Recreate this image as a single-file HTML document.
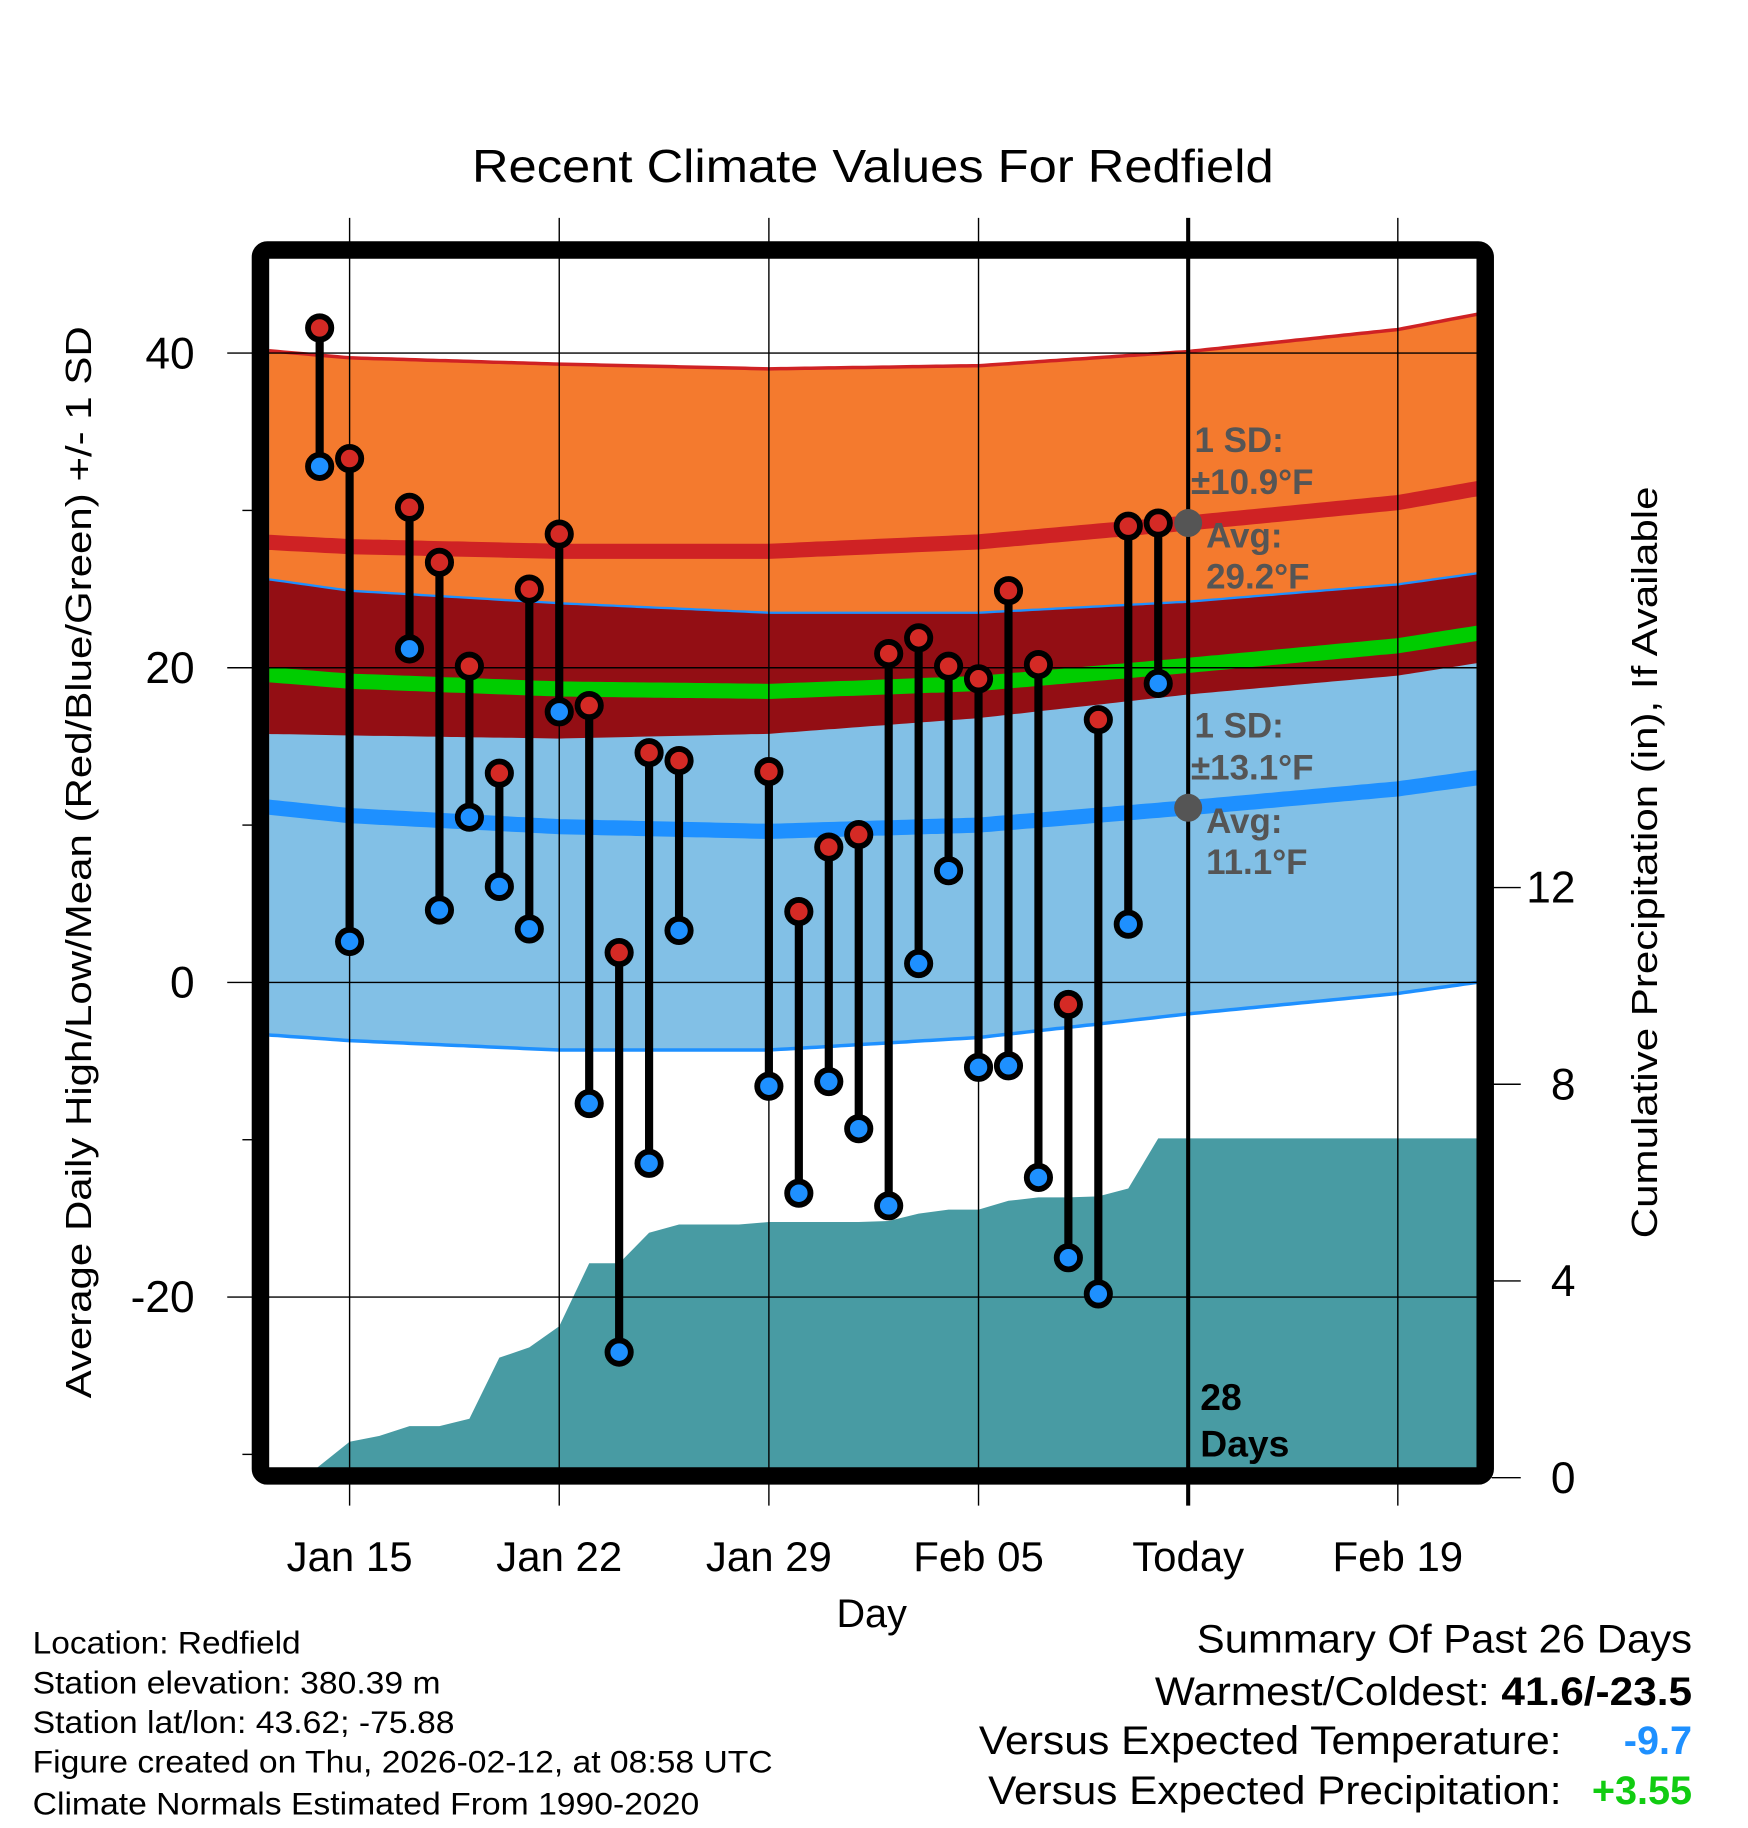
<!DOCTYPE html>
<html><head><meta charset="utf-8"><style>
html,body{margin:0;padding:0;background:#fff}
svg{display:block;font-family:"Liberation Sans",sans-serif}
</style></head><body>
<svg id="chart" width="1748" height="1828" viewBox="0 0 1500 1568.6" preserveAspectRatio="none" xmlns="http://www.w3.org/2000/svg">
<defs><clipPath id="plotclip"><rect x="231" y="222" width="1037" height="1038"/></clipPath></defs>
<text x="749" y="156" font-size="40" text-anchor="middle" textLength="688" lengthAdjust="spacingAndGlyphs">Recent Climate Values For Redfield</text>
<g id="bands" clip-path="url(#plotclip)"></g>
<g id="grid"></g>
<g id="marks"></g>
<rect x="223.5" y="214.5" width="1051" height="1052" rx="6" fill="none" stroke="#000" stroke-width="15"/>
<g id="labels"></g>
<text transform="translate(78,740) rotate(-90)" font-size="31" text-anchor="middle" textLength="920" lengthAdjust="spacingAndGlyphs">Average Daily High/Low/Mean (Red/Blue/Green) +/- 1 SD</text>
<text transform="translate(1422,740) rotate(-90)" font-size="31" text-anchor="middle" textLength="645" lengthAdjust="spacingAndGlyphs">Cumulative Precipitation (in), If Available</text>
<text x="748" y="1396" font-size="34" text-anchor="middle">Day</text>
<g font-size="27">
<text x="28" y="1419" textLength="230" lengthAdjust="spacingAndGlyphs">Location: Redfield</text>
<text x="28" y="1453" textLength="350" lengthAdjust="spacingAndGlyphs">Station elevation: 380.39 m</text>
<text x="28" y="1487" textLength="362" lengthAdjust="spacingAndGlyphs">Station lat/lon: 43.62; -75.88</text>
<text x="28" y="1521" textLength="635" lengthAdjust="spacingAndGlyphs">Figure created on Thu, 2026-02-12, at 08:58 UTC</text>
<text x="28" y="1557" textLength="572" lengthAdjust="spacingAndGlyphs">Climate Normals Estimated From 1990-2020</text>
</g>
<g font-size="34" text-anchor="end">
<text x="1452" y="1418" textLength="425" lengthAdjust="spacingAndGlyphs">Summary Of Past 26 Days</text>
<text x="1452" y="1463" textLength="461" lengthAdjust="spacingAndGlyphs">Warmest/Coldest: <tspan font-weight="bold">41.6/-23.5</tspan></text>
<text x="1340" y="1505" textLength="500" lengthAdjust="spacingAndGlyphs">Versus Expected Temperature:</text>
<text x="1452" y="1505" fill="#1e90ff" font-weight="bold">-9.7</text>
<text x="1340" y="1548" textLength="492" lengthAdjust="spacingAndGlyphs">Versus Expected Precipitation:</text>
<text x="1452" y="1548" fill="#11cc11" font-weight="bold">+3.55</text>
</g>
</svg>
<script>
// Days are offsets from Jan 15
const normDays = [-3, 0, 7, 14, 21, 28, 35, 38];
const hiMean = [28.0, 27.7, 27.4, 27.4, 28.0, 29.2, 30.5, 31.5];
const hiSD   = [12.2, 12.0, 11.9, 11.6, 11.2, 10.9, 11.0, 11.1];
const loMean = [11.2, 10.6, 9.9, 9.6, 10.0, 11.1, 12.3, 13.1];
const loSD   = [14.5, 14.3, 14.2, 13.9, 13.5, 13.1, 13.0, 13.0];
const obsDays = [-1,0,2,3,4,5,6,7,8,9,10,11,14,15,16,17,18,19,20,21,22,23,24,25,26,27];
const highs = [41.6,33.3,30.2,26.7,20.1,13.3,25.0,28.5,17.6,1.9,14.6,14.1,13.4,4.5,8.6,9.4,20.9,21.9,20.1,19.3,24.9,20.2,-1.4,16.7,29.0,29.2];
const lows  = [32.8,2.6,21.2,4.6,10.5,6.1,3.4,17.2,-7.7,-23.5,-11.5,3.3,-6.6,-13.4,-6.3,-9.3,-14.2,1.2,7.1,-5.4,-5.3,-12.4,-17.5,-19.8,3.7,19.0];
const precipDays = [-1.5,0,1,2,3,4,5,6,7,8,9,10,11,12,13,14,15,16,17,18,19,20,21,22,23,24,25,26,27,28,38];
const precipVals = [0,0.73,0.85,1.05,1.05,1.2,2.44,2.65,3.08,4.36,4.36,4.98,5.15,5.15,5.15,5.2,5.2,5.2,5.2,5.22,5.37,5.45,5.45,5.63,5.7,5.7,5.72,5.88,6.9,6.9,6.9];
const xTickDays = [0,7,14,21,28,35];
const xTickLabels = ["Jan 15","Jan 22","Jan 29","Feb 05","Today","Feb 19"];
const yTicks = [40,20,0,-20];
const yMinor = [30,10,-10,-30];
const pTicks = [0,4,8,12];
const todayDay = 28;

const NS="http://www.w3.org/2000/svg";
const X0=231,X1=1268,Y0=222,Y1=1260;
const xs=d=>300+25.7*d;
const ys=t=>843-13.5*t;
const yp=p=>1268-42.2*p;
function el(tag,attrs,parent){const e=document.createElementNS(NS,tag);for(const k in attrs)e.setAttribute(k,attrs[k]);parent.appendChild(e);return e;}
function interp(arr,d){for(let i=0;i<normDays.length-1;i++){if(d<=normDays[i+1]){const f=(d-normDays[i])/(normDays[i+1]-normDays[i]);return arr[i]+f*(arr[i+1]-arr[i]);}}return arr[arr.length-1];}
const samples=[];const dEnd=normDays[normDays.length-1];for(let d=normDays[0];d<dEnd;d+=0.2)samples.push(d);samples.push(dEnd);
function curve(f){return samples.map(d=>[xs(d),ys(f(d))]);}
function bandPath(fTop,fBot){const a=curve(fTop),b=curve(fBot).reverse();return "M"+a.concat(b).map(p=>p[0].toFixed(1)+","+p[1].toFixed(1)).join("L")+"Z";}
function linePath(f){return "M"+curve(f).map(p=>p[0].toFixed(1)+","+p[1].toFixed(1)).join("L");}
const hiT=d=>interp(hiMean,d)+interp(hiSD,d), hiB=d=>interp(hiMean,d)-interp(hiSD,d);
const loT=d=>interp(loMean,d)+interp(loSD,d), loB=d=>interp(loMean,d)-interp(loSD,d);
const bands=document.getElementById('bands');
let e;
e=el('path',{d:bandPath(hiT,hiB),fill:'#f47a2e'},bands);


e=el('path',{d:bandPath(loT,loB),fill:'#82c0e6'},bands);


e=el('path',{d:bandPath(d=>Math.min(hiT(d),loT(d)),d=>Math.max(hiB(d),loB(d))),fill:'#930e14'},bands);


e=el('path',{d:linePath(hiT),fill:'none',stroke:'#cf2224',"stroke-width":3},bands);


e=el('path',{d:linePath(loT),fill:'none',stroke:'#1e90ff',"stroke-width":2},bands);


e=el('path',{d:linePath(loB),fill:'none',stroke:'#1e90ff',"stroke-width":3},bands);


e=el('path',{d:linePath(d=>interp(hiMean,d)),fill:'none',stroke:'#cf2224',"stroke-width":13},bands);


e=el('path',{d:linePath(d=>interp(loMean,d)),fill:'none',stroke:'#1e90ff',"stroke-width":13},bands);


e=el('path',{d:linePath(d=>(interp(hiMean,d)+interp(loMean,d))/2),fill:'none',stroke:'#00cc00',"stroke-width":13},bands);


// precipitation area
let pp="M"+xs(precipDays[0]).toFixed(1)+","+Y1;
precipDays.forEach((d,i)=>{pp+="L"+xs(d).toFixed(1)+","+yp(precipVals[i]).toFixed(1);});
pp+="L"+xs(precipDays[precipDays.length-1]).toFixed(1)+","+Y1+"Z";
e=el('path',{d:pp,fill:'#489ba3'},bands);


// grid
const grid=document.getElementById('grid');
const labels=document.getElementById('labels');
xTickDays.forEach((d,i)=>{
  const x=xs(d);
  e=el('line',{x1:x,x2:x,y1:187,y2:1292,stroke:'#000',"stroke-width":d===todayDay?3.5:1.2},grid);
  
  
  e=el('text',{x:x,y:1348,"font-size":36,"text-anchor":"middle"},labels);
  e.textContent=xTickLabels[i];
  
  
});
yTicks.forEach(t=>{
  const y=ys(t);
  e=el('line',{x1:195,x2:X1,y1:y,y2:y,stroke:'#000',"stroke-width":1.2},grid);
  
  
  e=el('text',{x:167,y:y+13,"font-size":38,"text-anchor":"end"},labels);
  e.textContent=t;
  
  
});
yMinor.forEach(t=>{
  const y=ys(t);
  e=el('line',{x1:208,x2:220,y1:y,y2:y,stroke:'#000',"stroke-width":1.2},grid);
  
  
});
pTicks.forEach(p=>{
  const y=yp(p);
  e=el('line',{x1:1280,x2:1305,y1:y,y2:y,stroke:'#000',"stroke-width":1.2},grid);
  
  
  e=el('text',{x:1352,y:y+13,"font-size":38,"text-anchor":"end"},labels);
  e.textContent=p;
  
  
});
// stems and dots
const marks=document.getElementById('marks');
obsDays.forEach((d,i)=>{
  const x=xs(d),yh=ys(highs[i]),yl=ys(lows[i]);
  e=el('line',{x1:x,x2:x,y1:yh,y2:yl,stroke:'#000',"stroke-width":7},marks);
  
  
});
obsDays.forEach((d,i)=>{
  const x=xs(d);
  e=el('circle',{cx:x,cy:ys(highs[i]),r:10,fill:'#d42a25',stroke:'#000',"stroke-width":5},marks);
  
  
  e=el('circle',{cx:x,cy:ys(lows[i]),r:10,fill:'#1e90ff',stroke:'#000',"stroke-width":5},marks);
  
  
});
// annotations
const tx=xs(todayDay);
function ann(txt,x,y,name){const t=el('text',{x:x,y:y,"font-size":30,"font-weight":"bold",fill:'#555'},labels);t.textContent=txt;}
e=el('circle',{cx:tx,cy:ys(interp(hiMean,todayDay)),r:12,fill:'#555'},labels);


e=el('circle',{cx:tx,cy:ys(interp(loMean,todayDay)),r:12,fill:'#555'},labels);


ann("1 SD:",1025,388,'high-sd-label');
ann("±10.9°F",1022,424,'high-sd-value');
ann("Avg:",1035,470,'high-avg-label');
ann("29.2°F",1035,505,'high-avg-value');
ann("1 SD:",1025,633,'low-sd-label');
ann("±13.1°F",1022,669,'low-sd-value');
ann("Avg:",1035,715,'low-avg-label');
ann("11.1°F",1035,750,'low-avg-value');
e=el('text',{x:1030,y:1210,"font-size":32,"font-weight":"bold"},labels);
e.textContent="28";


e=el('text',{x:1030,y:1250,"font-size":32,"font-weight":"bold"},labels);
e.textContent="Days";


</script>
</body></html>
